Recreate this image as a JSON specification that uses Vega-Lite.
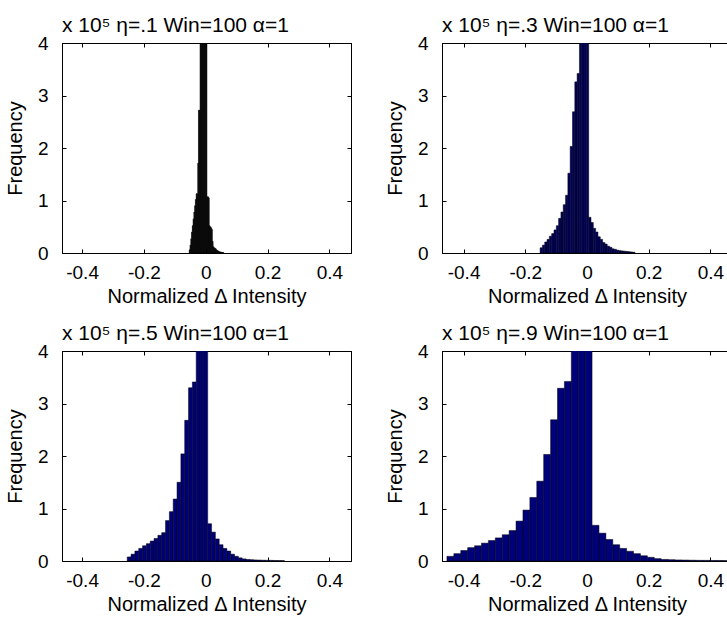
{
  "$schema": "https://vega.github.io/schema/vega-lite/v6.json",
  "background": "white",
  "padding": {"left": 4, "top": 14, "right": 0, "bottom": 0},
  "config": {
    "view": {"stroke": "black", "strokeWidth": 1},
    "font": "Liberation Sans",
    "axis": {"domain": true, "domainColor": "black", "domainWidth": 1, "grid": false, "ticks": true, "tickColor": "black", "tickSize": -4, "tickWidth": 1,
      "labelColor": "black", "labelFont": "Liberation Sans", "labelFontSize": 19, "labelPadding": 14,
      "labelFlush": false, "labelOverlap": false, "labelBound": false,
      "titleFont": "Liberation Sans", "titleFontSize": 20, "titleFontWeight": "normal", "titleColor": "black"},
    "axisX": {"titlePadding": 4},
    "axisY": {"titlePadding": 12, "labelPadding": 18},
    "title": {"font": "Liberation Sans", "fontSize": 21, "fontWeight": "normal", "anchor": "start", "frame": "group", "offset": -2, "color": "black", "baseline": "alphabetic"}
  },
  "data": {"values": [
    {"p":1,"x0":-0.0535,"x1":-0.051,"n":6000},{"p":1,"x0":-0.051,"x1":-0.0485,"n":15000},{"p":1,"x0":-0.0485,"x1":-0.046,"n":27000},{"p":1,"x0":-0.046,"x1":-0.0435,"n":40000},{"p":1,"x0":-0.0435,"x1":-0.041,"n":52000},{"p":1,"x0":-0.041,"x1":-0.0385,"n":65000},{"p":1,"x0":-0.0385,"x1":-0.036,"n":78000},{"p":1,"x0":-0.036,"x1":-0.0335,"n":90000},{"p":1,"x0":-0.0335,"x1":-0.031,"n":102000},{"p":1,"x0":-0.031,"x1":-0.0285,"n":113000},{"p":1,"x0":-0.0285,"x1":-0.026,"n":113000},{"p":1,"x0":-0.026,"x1":-0.0235,"n":171000},{"p":1,"x0":-0.0235,"x1":-0.021,"n":272000},{"p":1,"x0":-0.021,"x1":-0.0185,"n":272000},{"p":1,"x0":-0.0185,"x1":-0.016,"n":440000},{"p":1,"x0":-0.016,"x1":-0.0135,"n":510000},{"p":1,"x0":-0.0135,"x1":-0.011,"n":620000},{"p":1,"x0":-0.011,"x1":-0.0085,"n":750000},{"p":1,"x0":-0.0085,"x1":-0.006,"n":900000},{"p":1,"x0":-0.006,"x1":-0.0035,"n":780000},{"p":1,"x0":-0.0035,"x1":-0.001,"n":640000},{"p":1,"x0":-0.001,"x1":0.0015,"n":530000},{"p":1,"x0":0.0015,"x1":0.004,"n":460000},{"p":1,"x0":0.004,"x1":0.0065,"n":107000},{"p":1,"x0":0.0065,"x1":0.009,"n":107000},{"p":1,"x0":0.009,"x1":0.0115,"n":105000},{"p":1,"x0":0.0115,"x1":0.014,"n":52000},{"p":1,"x0":0.014,"x1":0.0165,"n":50000},{"p":1,"x0":0.0165,"x1":0.019,"n":48000},{"p":1,"x0":0.019,"x1":0.0215,"n":45000},{"p":1,"x0":0.0215,"x1":0.024,"n":22000},{"p":1,"x0":0.024,"x1":0.0265,"n":12000},{"p":1,"x0":0.0265,"x1":0.029,"n":10000},{"p":1,"x0":0.029,"x1":0.0315,"n":9000},{"p":1,"x0":0.0315,"x1":0.034,"n":8000},{"p":1,"x0":0.034,"x1":0.0365,"n":6000},{"p":1,"x0":0.0365,"x1":0.039,"n":5000},{"p":1,"x0":0.039,"x1":0.0415,"n":4000},{"p":1,"x0":0.0415,"x1":0.044,"n":3000},{"p":1,"x0":0.044,"x1":0.0465,"n":2500},{"p":1,"x0":0.0465,"x1":0.049,"n":2000},{"p":1,"x0":0.049,"x1":0.0515,"n":1500},{"p":1,"x0":0.0515,"x1":0.054,"n":1200},{"p":1,"x0":0.054,"x1":0.0565,"n":1000},{"p":1,"x0":0.0565,"x1":0.059,"n":800},

    {"p":2,"x0":-0.152,"x1":-0.1445,"n":10000},{"p":2,"x0":-0.1445,"x1":-0.137,"n":15000},{"p":2,"x0":-0.137,"x1":-0.1295,"n":21000},{"p":2,"x0":-0.1295,"x1":-0.122,"n":26000},{"p":2,"x0":-0.122,"x1":-0.1145,"n":32000},{"p":2,"x0":-0.1145,"x1":-0.107,"n":37000},{"p":2,"x0":-0.107,"x1":-0.0995,"n":44000},{"p":2,"x0":-0.0995,"x1":-0.092,"n":52000},{"p":2,"x0":-0.092,"x1":-0.0845,"n":66000},{"p":2,"x0":-0.0845,"x1":-0.077,"n":78000},{"p":2,"x0":-0.077,"x1":-0.0695,"n":92000},{"p":2,"x0":-0.0695,"x1":-0.062,"n":110000},{"p":2,"x0":-0.062,"x1":-0.0545,"n":152000},{"p":2,"x0":-0.0545,"x1":-0.047,"n":203000},{"p":2,"x0":-0.047,"x1":-0.0395,"n":269000},{"p":2,"x0":-0.0395,"x1":-0.032,"n":326000},{"p":2,"x0":-0.032,"x1":-0.0245,"n":342000},{"p":2,"x0":-0.0245,"x1":-0.017,"n":450000},{"p":2,"x0":-0.017,"x1":-0.0095,"n":560000},{"p":2,"x0":-0.0095,"x1":-0.002,"n":600000},{"p":2,"x0":-0.002,"x1":0.0055,"n":480000},{"p":2,"x0":0.0055,"x1":0.013,"n":68000},{"p":2,"x0":0.013,"x1":0.0205,"n":58000},{"p":2,"x0":0.0205,"x1":0.028,"n":47000},{"p":2,"x0":0.028,"x1":0.0355,"n":40000},{"p":2,"x0":0.0355,"x1":0.043,"n":31000},{"p":2,"x0":0.043,"x1":0.0505,"n":26000},{"p":2,"x0":0.0505,"x1":0.058,"n":20000},{"p":2,"x0":0.058,"x1":0.0655,"n":17000},{"p":2,"x0":0.0655,"x1":0.073,"n":13000},{"p":2,"x0":0.073,"x1":0.0805,"n":11000},{"p":2,"x0":0.0805,"x1":0.088,"n":8000},{"p":2,"x0":0.088,"x1":0.0955,"n":7000},{"p":2,"x0":0.0955,"x1":0.103,"n":5500},{"p":2,"x0":0.103,"x1":0.1105,"n":4500},{"p":2,"x0":0.1105,"x1":0.118,"n":4000},{"p":2,"x0":0.118,"x1":0.1255,"n":3500},{"p":2,"x0":0.1255,"x1":0.133,"n":3000},{"p":2,"x0":0.133,"x1":0.1405,"n":2500},{"p":2,"x0":0.1405,"x1":0.148,"n":2000},{"p":2,"x0":0.148,"x1":0.1555,"n":1500},

    {"p":3,"x0":-0.254,"x1":-0.2416,"n":7700},{"p":3,"x0":-0.2416,"x1":-0.2292,"n":13000},{"p":3,"x0":-0.2292,"x1":-0.2168,"n":19000},{"p":3,"x0":-0.2168,"x1":-0.2044,"n":24000},{"p":3,"x0":-0.2044,"x1":-0.192,"n":29000},{"p":3,"x0":-0.192,"x1":-0.1796,"n":33000},{"p":3,"x0":-0.1796,"x1":-0.1672,"n":38000},{"p":3,"x0":-0.1672,"x1":-0.1548,"n":43000},{"p":3,"x0":-0.1548,"x1":-0.1424,"n":49000},{"p":3,"x0":-0.1424,"x1":-0.13,"n":54000},{"p":3,"x0":-0.13,"x1":-0.1176,"n":77000},{"p":3,"x0":-0.1176,"x1":-0.1052,"n":94000},{"p":3,"x0":-0.1052,"x1":-0.0928,"n":118000},{"p":3,"x0":-0.0928,"x1":-0.0804,"n":150000},{"p":3,"x0":-0.0804,"x1":-0.068,"n":204000},{"p":3,"x0":-0.068,"x1":-0.0556,"n":268000},{"p":3,"x0":-0.0556,"x1":-0.0432,"n":330000},{"p":3,"x0":-0.0432,"x1":-0.0308,"n":341000},{"p":3,"x0":-0.0308,"x1":-0.0184,"n":470000},{"p":3,"x0":-0.0184,"x1":-0.006,"n":530000},{"p":3,"x0":-0.006,"x1":0.0064,"n":480000},{"p":3,"x0":0.0064,"x1":0.0188,"n":71000},{"p":3,"x0":0.0188,"x1":0.0312,"n":55000},{"p":3,"x0":0.0312,"x1":0.0436,"n":42000},{"p":3,"x0":0.0436,"x1":0.056,"n":31000},{"p":3,"x0":0.056,"x1":0.0684,"n":24000},{"p":3,"x0":0.0684,"x1":0.0808,"n":19000},{"p":3,"x0":0.0808,"x1":0.0932,"n":13000},{"p":3,"x0":0.0932,"x1":0.1056,"n":9000},{"p":3,"x0":0.1056,"x1":0.118,"n":6000},{"p":3,"x0":0.118,"x1":0.1304,"n":4000},{"p":3,"x0":0.1304,"x1":0.1428,"n":3000},{"p":3,"x0":0.1428,"x1":0.1552,"n":2500},{"p":3,"x0":0.1552,"x1":0.1676,"n":2000},{"p":3,"x0":0.1676,"x1":0.18,"n":1800},{"p":3,"x0":0.18,"x1":0.1924,"n":1500},{"p":3,"x0":0.1924,"x1":0.2048,"n":1300},{"p":3,"x0":0.2048,"x1":0.2172,"n":1200},{"p":3,"x0":0.2172,"x1":0.2296,"n":1000},{"p":3,"x0":0.2296,"x1":0.242,"n":900},{"p":3,"x0":0.242,"x1":0.2544,"n":800},

    {"p":4,"x0":-0.454,"x1":-0.4316,"n":8900},{"p":4,"x0":-0.4316,"x1":-0.4092,"n":14000},{"p":4,"x0":-0.4092,"x1":-0.3868,"n":20000},{"p":4,"x0":-0.3868,"x1":-0.3644,"n":25500},{"p":4,"x0":-0.3644,"x1":-0.342,"n":29000},{"p":4,"x0":-0.342,"x1":-0.3196,"n":34000},{"p":4,"x0":-0.3196,"x1":-0.2972,"n":39000},{"p":4,"x0":-0.2972,"x1":-0.2748,"n":44000},{"p":4,"x0":-0.2748,"x1":-0.2524,"n":50000},{"p":4,"x0":-0.2524,"x1":-0.23,"n":58000},{"p":4,"x0":-0.23,"x1":-0.2076,"n":76000},{"p":4,"x0":-0.2076,"x1":-0.1852,"n":97000},{"p":4,"x0":-0.1852,"x1":-0.1628,"n":121000},{"p":4,"x0":-0.1628,"x1":-0.1404,"n":152000},{"p":4,"x0":-0.1404,"x1":-0.118,"n":203000},{"p":4,"x0":-0.118,"x1":-0.0956,"n":269000},{"p":4,"x0":-0.0956,"x1":-0.0732,"n":329000},{"p":4,"x0":-0.0732,"x1":-0.0508,"n":342000},{"p":4,"x0":-0.0508,"x1":-0.0284,"n":460000},{"p":4,"x0":-0.0284,"x1":-0.006,"n":540000},{"p":4,"x0":-0.006,"x1":0.0164,"n":490000},{"p":4,"x0":0.0164,"x1":0.0388,"n":68000},{"p":4,"x0":0.0388,"x1":0.0612,"n":53000},{"p":4,"x0":0.0612,"x1":0.0836,"n":41000},{"p":4,"x0":0.0836,"x1":0.106,"n":31000},{"p":4,"x0":0.106,"x1":0.1284,"n":24000},{"p":4,"x0":0.1284,"x1":0.1508,"n":18500},{"p":4,"x0":0.1508,"x1":0.1732,"n":14000},{"p":4,"x0":0.1732,"x1":0.1956,"n":10000},{"p":4,"x0":0.1956,"x1":0.218,"n":7000},{"p":4,"x0":0.218,"x1":0.2404,"n":4500},{"p":4,"x0":0.2404,"x1":0.2628,"n":3000},{"p":4,"x0":0.2628,"x1":0.2852,"n":2500},{"p":4,"x0":0.2852,"x1":0.3076,"n":2000},{"p":4,"x0":0.3076,"x1":0.33,"n":1800},{"p":4,"x0":0.33,"x1":0.3524,"n":1500},{"p":4,"x0":0.3524,"x1":0.3748,"n":1300},{"p":4,"x0":0.3748,"x1":0.3972,"n":1200},{"p":4,"x0":0.3972,"x1":0.4196,"n":1000},{"p":4,"x0":0.4196,"x1":0.442,"n":1000},{"p":4,"x0":0.442,"x1":0.4644,"n":800}
  ]},
  "columns": 2,
  "bounds": "flush",
  "spacing": {"row": 98, "column": 91},
  "concat": [
    {
      "width": 289, "height": 210,
      "title": {"text": "x 10⁵   η=.1 Win=100 α=1"},
      "transform": [{"filter": "datum.p == 1"}],
      "layer": [
        {"mark": {"type": "bar", "fill": "#000000", "stroke": "#000000", "strokeWidth": 0.5, "clip": true},
         "encoding": {
           "x": {"field": "x0", "type": "quantitative", "scale": {"domain": [-0.465, 0.47], "nice": false, "zero": false},
                 "axis": {"orient": "bottom", "values": [-0.4, -0.2, 0, 0.2, 0.4], "labelExpr": "(datum.value < 0 ? '-' : '') + (datum.value == 0 ? '0' : format(abs(datum.value), '.1f'))", "title": "Normalized Δ Intensity"}},
           "x2": {"field": "x1"},
           "y": {"field": "n", "type": "quantitative", "scale": {"domain": [0, 400000], "nice": false},
                 "axis": {"orient": "left", "values": [0, 100000, 200000, 300000, 400000], "labelExpr": "format(datum.value / 100000, 'd')", "title": "Frequency"}},
           "y2": {"datum": 0}
         }},
        {"mark": {"type": "bar", "opacity": 0, "clip": true},
         "encoding": {
           "x": {"field": "x0", "type": "quantitative", "axis": {"orient": "top", "values": [-0.4, -0.2, 0, 0.2, 0.4], "labels": false, "title": null}},
           "x2": {"field": "x1"},
           "y": {"field": "n", "type": "quantitative", "axis": {"orient": "right", "values": [0, 100000, 200000, 300000, 400000], "labels": false, "title": null}},
           "y2": {"datum": 0}
         }}
      ],
      "resolve": {"axis": {"x": "independent", "y": "independent"}}
    },
    {
      "width": 290, "height": 210,
      "title": {"text": "x 10⁵   η=.3 Win=100 α=1"},
      "transform": [{"filter": "datum.p == 2"}],
      "layer": [
        {"mark": {"type": "bar", "fill": "#000060", "stroke": "#000000", "strokeWidth": 0.5, "clip": true},
         "encoding": {
           "x": {"field": "x0", "type": "quantitative", "scale": {"domain": [-0.47, 0.47], "nice": false, "zero": false},
                 "axis": {"orient": "bottom", "values": [-0.4, -0.2, 0, 0.2, 0.4], "labelExpr": "(datum.value < 0 ? '-' : '') + (datum.value == 0 ? '0' : format(abs(datum.value), '.1f'))", "title": "Normalized Δ Intensity"}},
           "x2": {"field": "x1"},
           "y": {"field": "n", "type": "quantitative", "scale": {"domain": [0, 400000], "nice": false},
                 "axis": {"orient": "left", "values": [0, 100000, 200000, 300000, 400000], "labelExpr": "format(datum.value / 100000, 'd')", "title": "Frequency"}},
           "y2": {"datum": 0}
         }},
        {"mark": {"type": "bar", "opacity": 0, "clip": true},
         "encoding": {
           "x": {"field": "x0", "type": "quantitative", "axis": {"orient": "top", "values": [-0.4, -0.2, 0, 0.2, 0.4], "labels": false, "title": null}},
           "x2": {"field": "x1"},
           "y": {"field": "n", "type": "quantitative", "axis": {"orient": "right", "values": [0, 100000, 200000, 300000, 400000], "labels": false, "title": null}},
           "y2": {"datum": 0}
         }}
      ],
      "resolve": {"axis": {"x": "independent", "y": "independent"}}
    },
    {
      "width": 289, "height": 210,
      "title": {"text": "x 10⁵   η=.5 Win=100 α=1"},
      "transform": [{"filter": "datum.p == 3"}],
      "layer": [
        {"mark": {"type": "bar", "fill": "#000078", "stroke": "#000000", "strokeWidth": 0.5, "clip": true},
         "encoding": {
           "x": {"field": "x0", "type": "quantitative", "scale": {"domain": [-0.465, 0.47], "nice": false, "zero": false},
                 "axis": {"orient": "bottom", "values": [-0.4, -0.2, 0, 0.2, 0.4], "labelExpr": "(datum.value < 0 ? '-' : '') + (datum.value == 0 ? '0' : format(abs(datum.value), '.1f'))", "title": "Normalized Δ Intensity"}},
           "x2": {"field": "x1"},
           "y": {"field": "n", "type": "quantitative", "scale": {"domain": [0, 400000], "nice": false},
                 "axis": {"orient": "left", "values": [0, 100000, 200000, 300000, 400000], "labelExpr": "format(datum.value / 100000, 'd')", "title": "Frequency"}},
           "y2": {"datum": 0}
         }},
        {"mark": {"type": "bar", "opacity": 0, "clip": true},
         "encoding": {
           "x": {"field": "x0", "type": "quantitative", "axis": {"orient": "top", "values": [-0.4, -0.2, 0, 0.2, 0.4], "labels": false, "title": null}},
           "x2": {"field": "x1"},
           "y": {"field": "n", "type": "quantitative", "axis": {"orient": "right", "values": [0, 100000, 200000, 300000, 400000], "labels": false, "title": null}},
           "y2": {"datum": 0}
         }}
      ],
      "resolve": {"axis": {"x": "independent", "y": "independent"}}
    },
    {
      "width": 290, "height": 210,
      "title": {"text": "x 10⁵   η=.9 Win=100 α=1"},
      "transform": [{"filter": "datum.p == 4"}],
      "layer": [
        {"mark": {"type": "bar", "fill": "#000078", "stroke": "#000000", "strokeWidth": 0.5, "clip": true},
         "encoding": {
           "x": {"field": "x0", "type": "quantitative", "scale": {"domain": [-0.47, 0.47], "nice": false, "zero": false},
                 "axis": {"orient": "bottom", "values": [-0.4, -0.2, 0, 0.2, 0.4], "labelExpr": "(datum.value < 0 ? '-' : '') + (datum.value == 0 ? '0' : format(abs(datum.value), '.1f'))", "title": "Normalized Δ Intensity"}},
           "x2": {"field": "x1"},
           "y": {"field": "n", "type": "quantitative", "scale": {"domain": [0, 400000], "nice": false},
                 "axis": {"orient": "left", "values": [0, 100000, 200000, 300000, 400000], "labelExpr": "format(datum.value / 100000, 'd')", "title": "Frequency"}},
           "y2": {"datum": 0}
         }},
        {"mark": {"type": "bar", "opacity": 0, "clip": true},
         "encoding": {
           "x": {"field": "x0", "type": "quantitative", "axis": {"orient": "top", "values": [-0.4, -0.2, 0, 0.2, 0.4], "labels": false, "title": null}},
           "x2": {"field": "x1"},
           "y": {"field": "n", "type": "quantitative", "axis": {"orient": "right", "values": [0, 100000, 200000, 300000, 400000], "labels": false, "title": null}},
           "y2": {"datum": 0}
         }}
      ],
      "resolve": {"axis": {"x": "independent", "y": "independent"}}
    }
  ]
}
